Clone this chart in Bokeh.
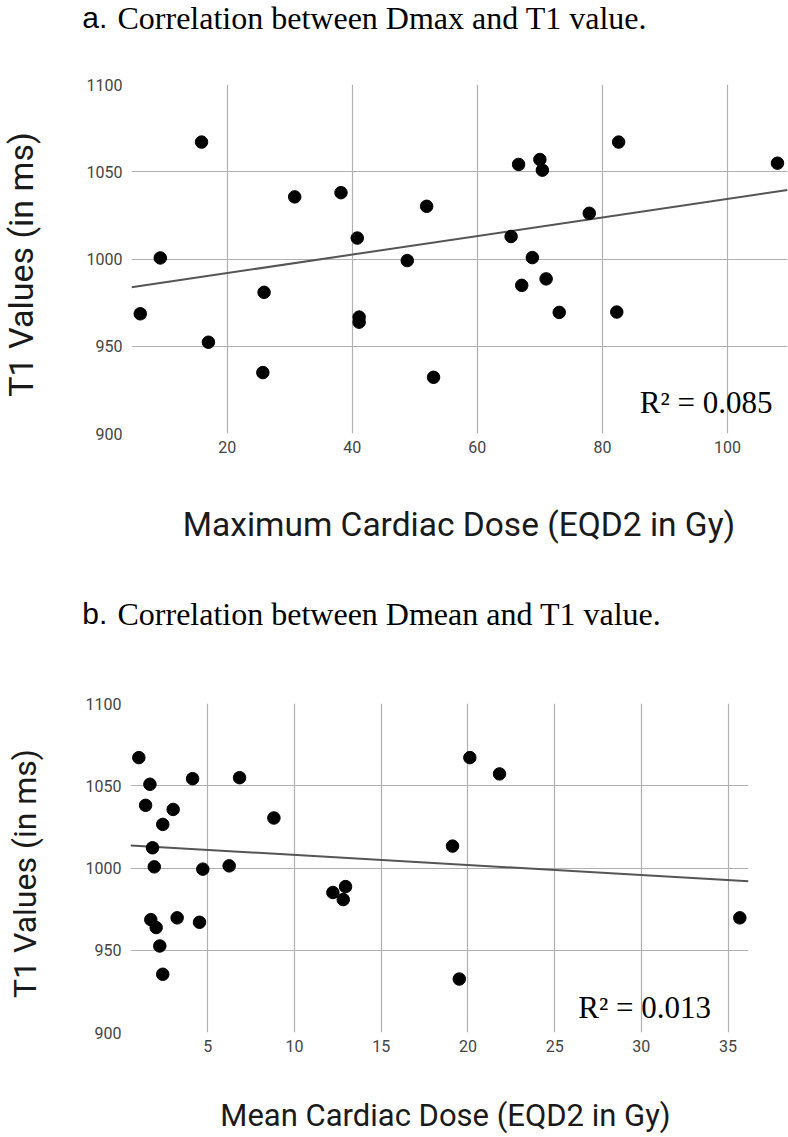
import math
from bokeh.plotting import figure
from bokeh.models import Range1d, Label, FixedTicker
from bokeh.layouts import column, row
from bokeh.embed import file_html
from bokeh.resources import INLINE

# ---------------- data: panel a (Dmax vs T1) ----------------
dmax_gy = [6.1, 9.3, 15.9, 17.0, 25.9, 25.7, 30.8, 38.2, 40.8, 41.1, 41.1, 48.8, 51.9,
           53.0, 65.4, 66.6, 67.1, 68.8, 70.0, 70.4, 71.0, 73.1, 77.9, 82.3, 82.6, 108.0]
t1_a = [968.6, 1000.6, 1067.0, 952.3, 980.9, 934.9, 1035.6, 1038.0, 1012.0, 966.7, 963.8,
        999.1, 1030.2, 932.2, 1012.9, 1054.2, 984.9, 1000.8, 1057.0, 1050.9, 988.6, 969.4,
        1026.2, 969.6, 1067.0, 1054.9]
trend_a_x = [4.7, 109.6]
trend_a_y = [983.8, 1039.5]
xticks_a = [20, 40, 60, 80, 100]

# ---------------- data: panel b (Dmean vs T1) ----------------
dmean_gy = [1.02, 1.66, 1.41, 2.40, 3.00, 4.12, 6.83, 8.81, 1.81, 1.91, 4.71, 6.23, 1.71,
            2.02, 3.23, 4.52, 2.23, 2.40, 12.21, 12.94, 12.81, 20.11, 21.82, 19.11, 19.50, 35.68]
t1_b = [1067.1, 1050.9, 1038.1, 1026.5, 1035.6, 1054.3, 1054.9, 1030.4, 1012.3, 1000.7, 999.3,
        1001.3, 968.6, 963.8, 969.7, 967.0, 952.6, 935.4, 985.1, 988.7, 980.8, 1067.1, 1057.2,
        1013.3, 932.5, 969.7]
trend_b_x = [0.54, 36.18]
trend_b_y = [1013.7, 992.0]
xticks_b = [5, 10, 15, 20, 25, 30, 35]

yticks = [900, 950, 1000, 1050, 1100]

titles = ["a.", "b."]
title_texts = ["Correlation between Dmax and T1 value.", "Correlation between Dmean and T1 value."]
x_labels = ["Maximum Cardiac Dose (EQD2 in Gy)", "Mean Cardiac Dose (EQD2 in Gy)"]
y_label = "T1 Values (in ms)"
r2_texts = ["R\u00b2 = 0.085", "R\u00b2 = 0.013"]

W = 788
YL_W = 44   # width of the strip holding the rotated y-axis title
BL = 12     # correction for where the alphabetic baseline lands


def text_fig(w, h):
    """A blank figure whose frame fills it; data units equal pixels (y down)."""
    f = figure(width=w, height=h, x_range=Range1d(0, w), y_range=Range1d(h, 0),
               min_border=0, x_axis_location=None, y_axis_location=None,
               output_backend="svg", toolbar_location=None, frame_align=False)
    f.outline_line_color = None
    f.grid.visible = False
    f.background_fill_color = "white"
    f.border_fill_color = "white"
    return f


def label(f, text, x, y, font, size, align="left", baseline="alphabetic", angle=0.0,
          color="black"):
    f.add_layout(Label(x=x, y=y, text=text, text_font=font, text_font_size=size,
                       text_align=align, text_baseline=baseline, angle=angle,
                       text_color=color))


def chart(w, h, borders, xr, xs, ys, tx, ty, xticks, r2, r2_px):
    bl, br, bt, bb = borders
    p = figure(width=w, height=h, x_range=Range1d(*xr), y_range=Range1d(900, 1100),
               min_border_left=bl, min_border_right=br, min_border_top=bt, min_border_bottom=bb,
               output_backend="svg", toolbar_location=None, frame_align=False)
    p.outline_line_color = None
    p.background_fill_color = "white"
    p.border_fill_color = "white"

    p.xaxis.ticker = FixedTicker(ticks=xticks)
    p.yaxis.ticker = FixedTicker(ticks=yticks)
    for ax in (p.xaxis[0], p.yaxis[0]):
        ax.axis_line_color = None
        ax.major_tick_line_color = None
        ax.minor_tick_line_color = None
        ax.major_tick_in = 0
        ax.major_tick_out = 0
        ax.minor_tick_in = 0
        ax.minor_tick_out = 0
        ax.major_label_text_font = "Roboto"
        ax.major_label_text_font_size = "16px"
        ax.major_label_text_color = "#444444"
    p.yaxis.major_label_standoff = 9
    p.xaxis.major_label_standoff = 7

    p.xgrid.grid_line_color = "#b0b0b0"
    p.ygrid.grid_line_color = "#b0b0b0"
    p.xgrid.grid_line_width = 1.2
    p.ygrid.grid_line_width = 1.2

    p.line(tx, ty, line_color="#555555", line_width=2)
    p.scatter(xs, ys, size=12.5, fill_color="black", line_color="black")

    # R^2 annotation placed from frame-relative pixel offsets
    fw = w - bl - br
    fh = h - bt - bb
    rx = xr[0] + r2_px[0] / fw * (xr[1] - xr[0])
    ry = 1100 - (r2_px[1] - BL) / fh * 200
    label(p, r2, rx, ry, "Liberation Serif", "31px")
    return p


# ---- top title strip (page y 0..70)
t_a = text_fig(W, 70)
label(t_a, titles[0], 81.7, 29 - BL, "Liberation Sans", "30px")
label(t_a, title_texts[0], 117, 29 - BL, "Liberation Serif", "32px")

# ---- chart a (page y 70..470), frame 131..787 x 84..433
ya = text_fig(YL_W, 400)
label(ya, y_label, 20, 194, "Roboto", "34px", align="center", baseline="middle",
      angle=math.pi / 2, color="#1a1a1a")
pa = chart(W - YL_W, 400, (131 - YL_W, 1, 14, 37), (4.7, 109.6), dmax_gy, t1_a,
           trend_a_x, trend_a_y, xticks_a, r2_texts[0], (639.3 - 131, 414 - 84))

# ---- middle strip (page y 470..690): x-axis title a + title b
mid = text_fig(W, 220)
label(mid, x_labels[0], 458.5, 65.7 - BL, "Roboto", "33.5px", align="center", color="#1a1a1a")
label(mid, titles[1], 81.7, 155 - BL, "Liberation Sans", "30px")
label(mid, title_texts[1], 117, 155 - BL, "Liberation Serif", "32px")

# ---- chart b (page y 690..1060), frame 130..748 x 703..1032
yb = text_fig(YL_W, 370)
label(yb, y_label, 24, 183, "Roboto", "32px", align="center", baseline="middle",
      angle=math.pi / 2, color="#1a1a1a")
pb = chart(W - YL_W, 370, (130 - YL_W, 40, 13, 28), (0.54, 36.18), dmean_gy, t1_b,
           trend_b_x, trend_b_y, xticks_b, r2_texts[1], (577.7 - 130, 1019.3 - 703))

# ---- bottom strip (page y 1060..1137): x-axis title b
bot = text_fig(W, 77)
label(bot, x_labels[1], 445, 66.7 - BL, "Roboto", "31px", align="center", color="#1a1a1a")

layout = column(t_a, row(ya, pa, spacing=0), mid, row(yb, pb, spacing=0), bot, spacing=0)

open("out.html", "w").write(file_html(layout, INLINE))
